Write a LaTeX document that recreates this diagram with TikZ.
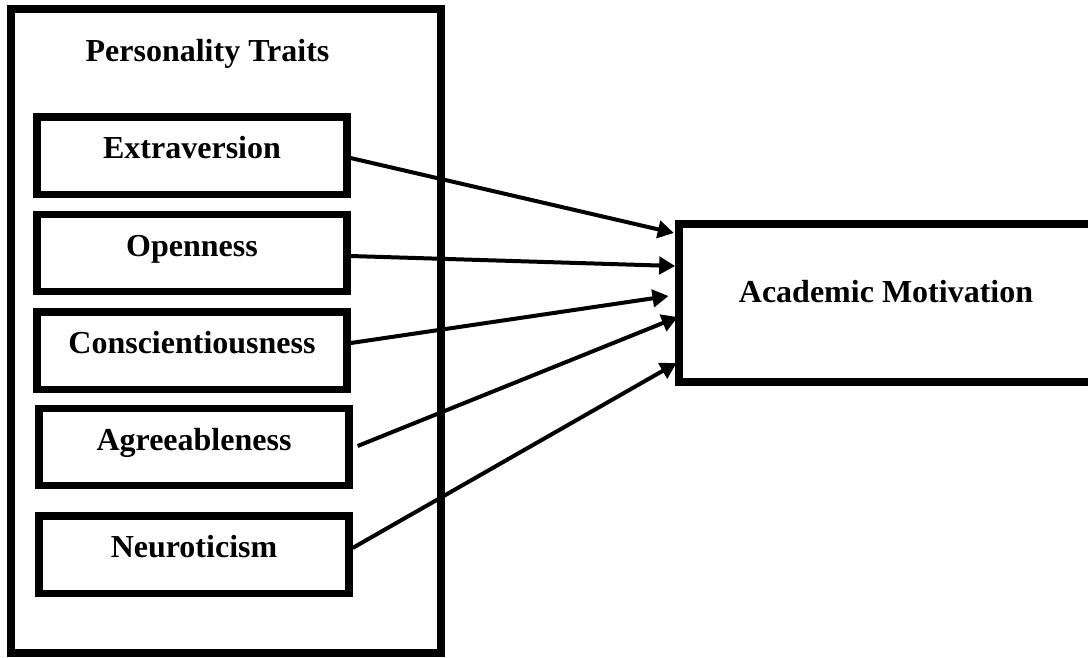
\documentclass[tikz,border=0pt]{standalone}
\usepackage{fontspec}
\setmainfont{Liberation Serif}
\usepackage{tikz}
\usetikzlibrary{arrows.meta}

\tikzset{
  trait/.style={draw, line width=5.5pt, minimum width=232.5pt, minimum height=58pt,
    inner sep=0pt, text height=17pt, text depth=12pt, font=\fontsize{24}{28}\selectfont\bfseries},
  outcome/.style={draw, line width=5.75pt, minimum width=310.5pt, minimum height=118.5pt,
    inner sep=0pt, text height=17pt, text depth=17.5pt, font=\fontsize{24}{28}\selectfont\bfseries},
  link/.style={line width=3pt, -{Triangle[length=12pt,width=13pt]}}
}

\begin{document}
\begin{tikzpicture}[x=0.75pt,y=0.75pt,yscale=-1,xscale=1]
\useasboundingbox (0,0) rectangle (1088,657);

%Outer group box
\draw [line width=6.25pt] (11,9) rectangle (441,653);
% Text Node
\node (title) at (207.5,54) [font=\fontsize{24}{28}\selectfont\bfseries] {Personality Traits};

%Trait boxes
\node (ext) at (192,155.5) [trait] {Extraversion};
\node (open) at (192,253) [trait] {Openness};
\node (consc) at (192,350.5) [trait] {Conscientiousness};
\node (agree) at (194,447) [trait] {Agreeableness};
\node (neuro) at (194,554.5) [trait] {Neuroticism};

%Outcome box
\node (mot) at (886,303) [outcome] {Academic Motivation};

%Arrows (shifts are flipped by yscale=-1)
\draw [link] ([yshift=1.9pt]ext.east) -- ([xshift=-1pt,yshift=-52.5pt]mot.west);
\draw [link] ([yshift=2.25pt]open.east) -- ([yshift=-27.75pt]mot.west);
\draw [link] ([yshift=-5.6pt]consc.east) -- ([xshift=-5pt,yshift=-5.25pt]mot.west);
\draw [link] ([xshift=3.75pt,yshift=-0.75pt]agree.east) -- ([xshift=2pt,yshift=10.5pt]mot.west);
\draw [link] ([yshift=-4.9pt]neuro.east) -- ([xshift=1pt,yshift=45pt]mot.west);

\end{tikzpicture}
\end{document}
